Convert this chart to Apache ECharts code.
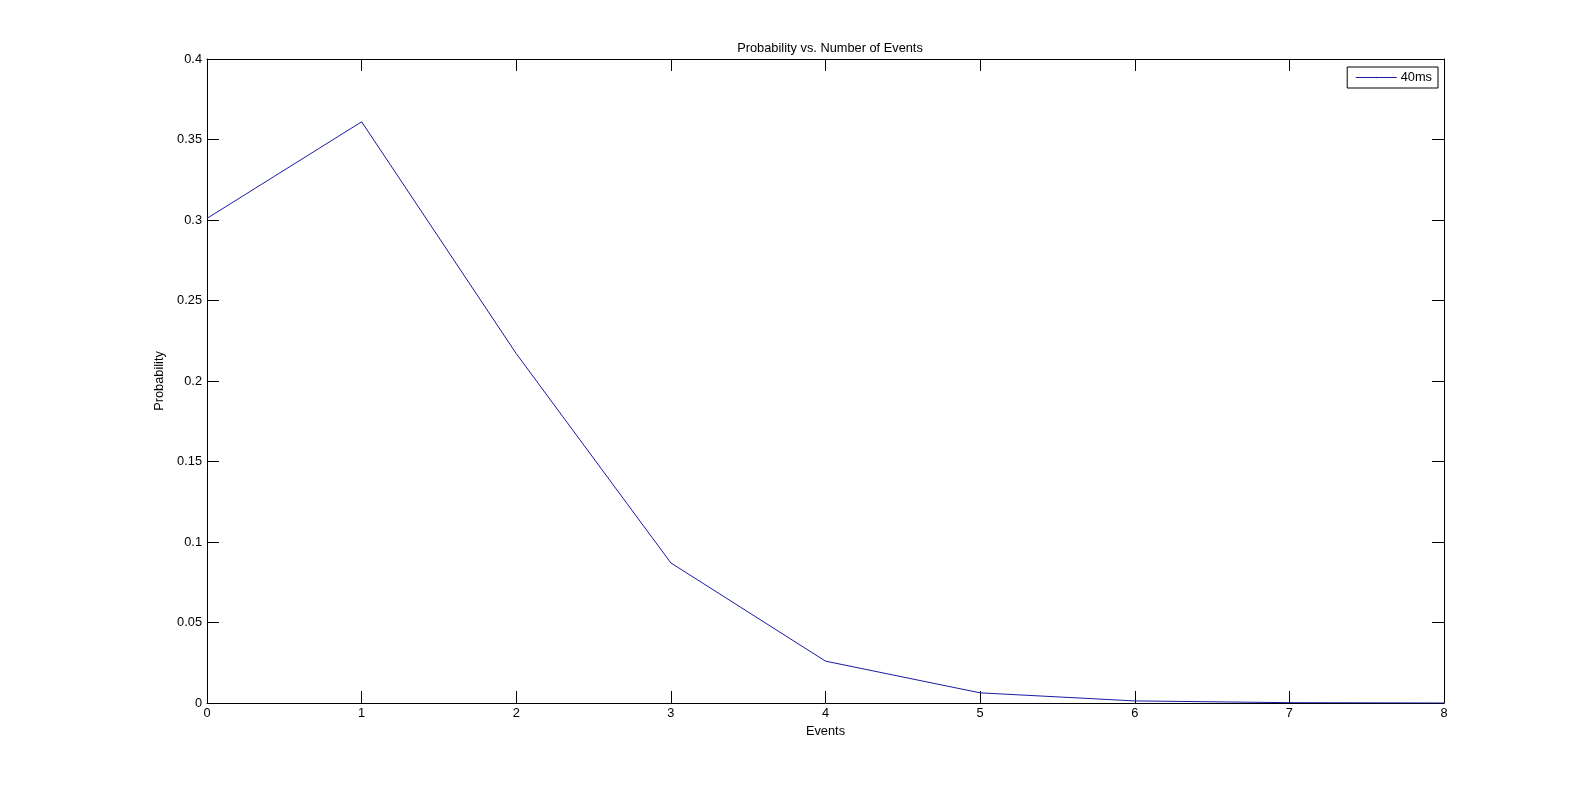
<!DOCTYPE html>
<html>
<head>
<meta charset="utf-8">
<script src="https://cdn.jsdelivr.net/npm/echarts@6/dist/echarts.min.js"></script>
<style>
  html, body { margin: 0; padding: 0; background: #fff; }
  #chart { width: 1596px; height: 790px; }
</style>
</head>
<body>
<div id="chart"></div>
<script>
const events = [0, 1, 2, 3, 4, 5, 6, 7, 8];
const prob40ms = [0.301, 0.361, 0.217, 0.087, 0.026, 0.0063, 0.0013, 0.0002, 0.0];

const chart = echarts.init(document.getElementById("chart"));
const font = "Liberation Sans, Arial, sans-serif";
const fs = 12.8;
const lineColor = "#1a1aa0";

const tickInside = { show: true, inside: true, length: 12, lineStyle: { color: "#000", width: 1 } };
const axisLine = { show: true, onZero: false, lineStyle: { color: "#000", width: 1 } };

chart.setOption({
  animation: false,
  backgroundColor: "#fff",
  title: {
    text: "Probability vs. Number of Events",
    left: 825, top: 37, textAlign: "center",
    textStyle: { fontFamily: font, fontSize: fs, fontWeight: "normal", color: "#000" },
  },
  legend: {
    right: 158, top: 67,
    padding: [4, 6, 4, 8],
    itemWidth: 41, itemHeight: 2, itemGap: 4,
    borderColor: "#000", borderWidth: 1,
    lineStyle: { width: 1 },
    textStyle: { fontFamily: font, fontSize: fs, color: "#000", padding: [0, 0, 0, -1] },
    data: ["40ms"],
  },
  grid: { left: 207, top: 59, width: 1237, height: 644 },
  xAxis: [
    {
      type: "value", min: 0, max: 8, interval: 1,
      name: "Events", nameLocation: "middle", nameGap: 22,
      nameTextStyle: { fontFamily: font, fontSize: fs, color: "#000" },
      axisLine: axisLine,
      axisTick: tickInside,
      axisLabel: { fontFamily: font, fontSize: fs, color: "#000", margin: 4 },
      splitLine: { show: false },
    },
    {
      type: "value", min: 0, max: 8, interval: 1, position: "top",
      axisLine: axisLine,
      axisTick: tickInside,
      axisLabel: { show: false },
      splitLine: { show: false },
    },
  ],
  yAxis: [
    {
      type: "value", min: 0, max: 0.4, interval: 0.05,
      name: "Probability", nameLocation: "middle", nameGap: 34, nameRotate: 90,
      nameTextStyle: { fontFamily: font, fontSize: fs, color: "#000" },
      axisLine: axisLine,
      axisTick: tickInside,
      axisLabel: { fontFamily: font, fontSize: fs, color: "#000", margin: 5 },
      splitLine: { show: false },
    },
    {
      type: "value", min: 0, max: 0.4, interval: 0.05, position: "right",
      axisLine: axisLine,
      axisTick: tickInside,
      axisLabel: { show: false },
      splitLine: { show: false },
    },
  ],
  series: [
    {
      name: "40ms",
      type: "line",
      data: events.map((e, i) => [e, prob40ms[i]]),
      symbol: "none",
      lineStyle: { color: lineColor, width: 1 },
      itemStyle: { color: lineColor },
    },
  ],
});
</script>
</body>
</html>
